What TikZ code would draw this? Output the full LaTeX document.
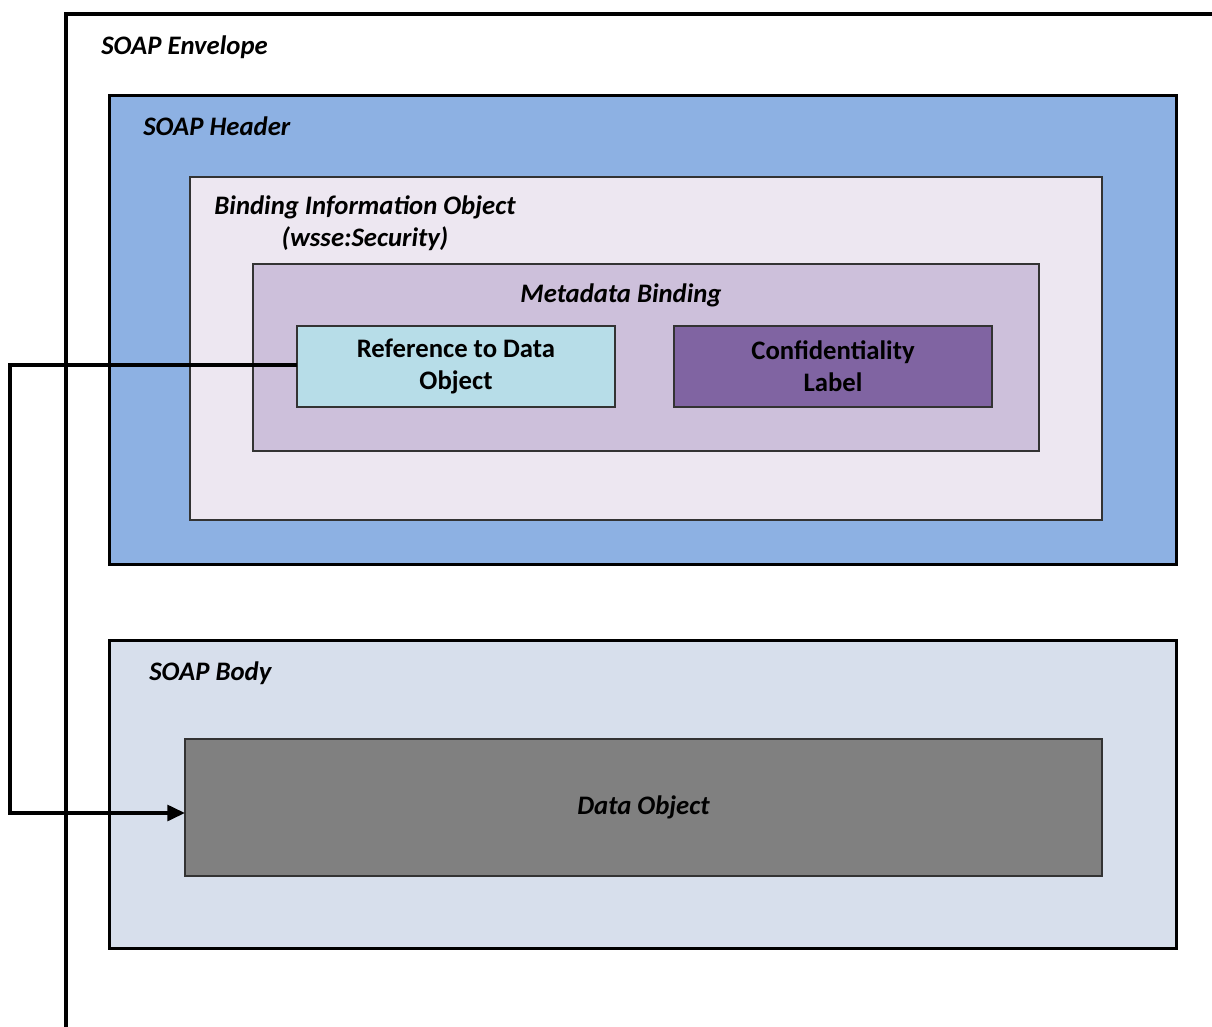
\documentclass[tikz,border=0pt]{standalone}
\usepackage{fontspec}
\setmainfont{Carlito}
\usepackage{xcolor}
\usetikzlibrary{arrows.meta,positioning,calc}
\definecolor{hdrblue}{HTML}{8DB1E3}
\definecolor{bindlilac}{HTML}{EDE7F1}
\definecolor{metapurple}{HTML}{CDC0DB}
\definecolor{refaqua}{HTML}{B7DDE8}
\definecolor{confpurple}{HTML}{8064A2}
\definecolor{bodyblue}{HTML}{D7DFEC}
\definecolor{datagray}{HTML}{808080}
\tikzset{
  outerbox/.style={draw, line width=2.1pt, inner sep=0pt, outer sep=0pt},
  innerbox/.style={draw=black!80, line width=1pt, inner sep=0pt, outer sep=0pt},
  boxtitle/.style={font=\fontsize{19}{23}\selectfont\bfseries\itshape, inner sep=0pt},
  boxtext/.style={font=\fontsize{19}{23}\selectfont\bfseries, align=center},
  refarrow/.style={-{Triangle[length=4.4mm, width=4mm]}, line width=2.2pt}
}
\begin{document}
\begin{tikzpicture}[x=0.025cm, y=-0.025cm]
\useasboundingbox (0,0) rectangle (1212,1027);
% envelope runs off the page to the right and bottom
\draw[line width=2.2pt] (66,1027) -- (66,14) -- (1212,14);
\node[boxtitle, anchor=west] (envlbl) at (101,47) {SOAP Envelope};

% header
\node[outerbox, fill=hdrblue, minimum width=26.65cm, minimum height=11.7cm] (hdr) at (643,330) {};
\node[boxtitle, anchor=west] (hdrlbl) at (143,126) {SOAP Header};
\node[innerbox, fill=bindlilac, minimum width=22.8cm, minimum height=8.575cm] (bind) at (646,348.5) {};
\node[boxtitle, align=center] (bindlbl) at (365,223) {Binding Information Object\\(wsse:Security)};
\node[innerbox, fill=metapurple, minimum width=19.65cm, minimum height=4.675cm] (meta) at (646,357.5) {};
\node[boxtitle] (metalbl) at (621,295) {Metadata Binding};
\node[innerbox, fill=refaqua, minimum width=7.95cm, minimum height=2.025cm, boxtext] (ref) at (456,366.5) {Reference to Data\\Object};
\node[innerbox, fill=confpurple, minimum width=7.95cm, minimum height=2.025cm, boxtext] (conf) at (833,366.5) {Confidentiality\\Label};

% body
\node[outerbox, fill=bodyblue, minimum width=26.65cm, minimum height=7.675cm] (body) at (643,794.5) {};
\node[boxtitle, anchor=west] (bodylbl) at (149,673) {SOAP Body};
\node[innerbox, fill=datagray, minimum width=22.925cm, minimum height=3.425cm, boxtitle] (data) at (643.5,807.5) {Data Object};

% reference link
\coordinate (bend) at (10,365);
\draw[refarrow] (ref.west |- bend) -- (bend) |- ($(data.west)+(0,5.5)$);
\end{tikzpicture}
\end{document}
